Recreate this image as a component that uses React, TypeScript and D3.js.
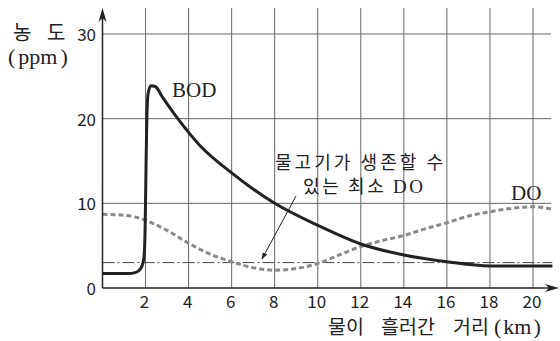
import React from "react";
import * as d3 from "d3";

const W = 560;
const H = 341;

const xTicks = [2, 4, 6, 8, 10, 12, 14, 16, 18, 20];
const yTicks = [0, 10, 20, 30];

const bodX = [0, 1.2, 1.55, 1.8, 1.92, 1.98, 2.02, 2.06, 2.12, 2.25, 2.45, 2.8, 3.5, 4.5, 6, 8, 10, 12, 14, 16, 18, 20.9];
const bodY = [1.7, 1.7, 1.85, 2.4, 3.5, 7, 14, 20, 23, 23.9, 23.8, 22.5, 20, 16.9, 13.6, 10, 7.4, 5.2, 3.9, 3.1, 2.6, 2.6];

const doX = [0, 1, 2, 3, 4, 5, 6, 7, 8, 9, 10, 11, 12, 13, 14, 15, 16, 17, 18, 19, 20, 20.9];
const doY = [8.7, 8.6, 8.0, 6.8, 5.3, 4.0, 3.1, 2.4, 2.1, 2.3, 2.9, 3.9, 4.9, 5.6, 6.2, 7.0, 7.7, 8.5, 9.0, 9.4, 9.6, 9.3];

const minDO = 3;

const sans = "'Noto Sans CJK KR', 'Noto Sans', sans-serif";
const serif = "'Liberation Serif', 'DejaVu Serif', serif";

export default function App() {
  const x = d3.scaleLinear().domain([0, 20]).range([102.5, 533]);
  const y = d3.scaleLinear().domain([0, 30]).range([288, 34]);
  const xEnd = x(20.9);

  const line = d3
    .line<[number, number]>()
    .x((d) => x(d[0]))
    .y((d) => y(d[1]))
    .curve(d3.curveMonotoneX);

  const bod = line(bodX.map((v, i) => [v, bodY[i]]) as [number, number][]) || "";
  const dox = line(doX.map((v, i) => [v, doY[i]]) as [number, number][]) || "";

  const gridColor = "#666";

  return (
    <svg
      width={W}
      height={H}
      style={{ position: "absolute", left: 0, top: 0, background: "#fff" }}
    >
      <defs>
        <marker id="arr" viewBox="0 0 10 10" refX="9" refY="5" markerWidth="7" markerHeight="7" orient="auto">
          <path d="M0,1.5 L10,5 L0,8.5 Z" fill="#222" />
        </marker>
      </defs>
      {xTicks.map((t) => (
        <line key={"vx" + t} x1={x(t)} x2={x(t)} y1={8} y2={y(0)} stroke={gridColor} strokeWidth={1} />
      ))}
      {yTicks.slice(1).map((t) => (
        <line key={"hy" + t} x1={x(0)} x2={551} y1={y(t)} y2={y(t)} stroke={gridColor} strokeWidth={1} />
      ))}
      <line
        x1={x(0)}
        x2={xEnd}
        y1={y(minDO)}
        y2={y(minDO)}
        stroke="#444"
        strokeWidth={1}
        strokeDasharray="12,3,2,3"
      />
      <path d={dox} fill="none" stroke="#8a8a8a" strokeWidth={3} strokeDasharray="5,3" />
      <path d={bod} fill="none" stroke="#222" strokeWidth={3} strokeLinejoin="round" />
      <line x1={x(0)} x2={x(0)} y1={y(0)} y2={14} stroke="#222" strokeWidth={1.5} />
      <path d={`M${x(0)},8 L${x(0) - 4},22 L${x(0)},18 L${x(0) + 4},22 Z`} fill="#222" />
      <line x1={x(0)} x2={552} y1={y(0)} y2={y(0)} stroke="#222" strokeWidth={1.5} />
      <path d={`M559,${y(0)} L545,${y(0) - 4} L549,${y(0)} L545,${y(0) + 4} Z`} fill="#222" />
      {xTicks.map((t) => (
        <text key={"xl" + t} x={x(t) - 1} y={308} textAnchor="middle" fontSize={17} fontFamily={sans} fill="#222">
          {t}
        </text>
      ))}
      {yTicks.map((t) => (
        <text key={"yl" + t} x={96} y={y(t) + 7} textAnchor="end" fontSize={17} fontFamily={sans} fill="#222">
          {t}
        </text>
      ))}
      <text y={334} fontSize={19.5} fontFamily={sans} fill="#222">
        <tspan x={328}>물이</tspan>
        <tspan x={381}>흘러간</tspan>
        <tspan x={453}>거리</tspan>
        <tspan x={494} fontFamily={serif} fontSize={22}>(</tspan>
        <tspan dx={2} fontFamily={serif} fontSize={22}>km</tspan>
        <tspan dx={2} fontFamily={serif} fontSize={22}>)</tspan>
      </text>
      <text y={40} fontSize={20} fontFamily={sans} fill="#222">
        <tspan x={13}>농</tspan>
        <tspan x={47}>도</tspan>
      </text>
      <text y={64} fontSize={22} fontFamily={serif} fill="#222">
        <tspan x={8}>(</tspan>
        <tspan dx={3}>ppm</tspan>
        <tspan dx={3}>)</tspan>
      </text>
      <text x={172} y={97} fontSize={21} fontFamily={serif} fill="#222">
        BOD
      </text>
      <text x={511} y={200} fontSize={21} fontFamily={serif} fill="#222">
        DO
      </text>
      <text x={275} y={169} fontSize={18} fontFamily={sans} fill="#222" textLength={168} lengthAdjust="spacing">
        물고기가 생존할 수
      </text>
      <text x={303} y={193} fontSize={18} fontFamily={sans} fill="#222" textLength={120} lengthAdjust="spacing">
        있는 최소 <tspan fontFamily={serif} fontSize={19}>DO</tspan>
      </text>
      <line x1={296} y1={196} x2={262} y2={259} stroke="#222" strokeWidth={1} markerEnd="url(#arr)" />
    </svg>
  );
}
